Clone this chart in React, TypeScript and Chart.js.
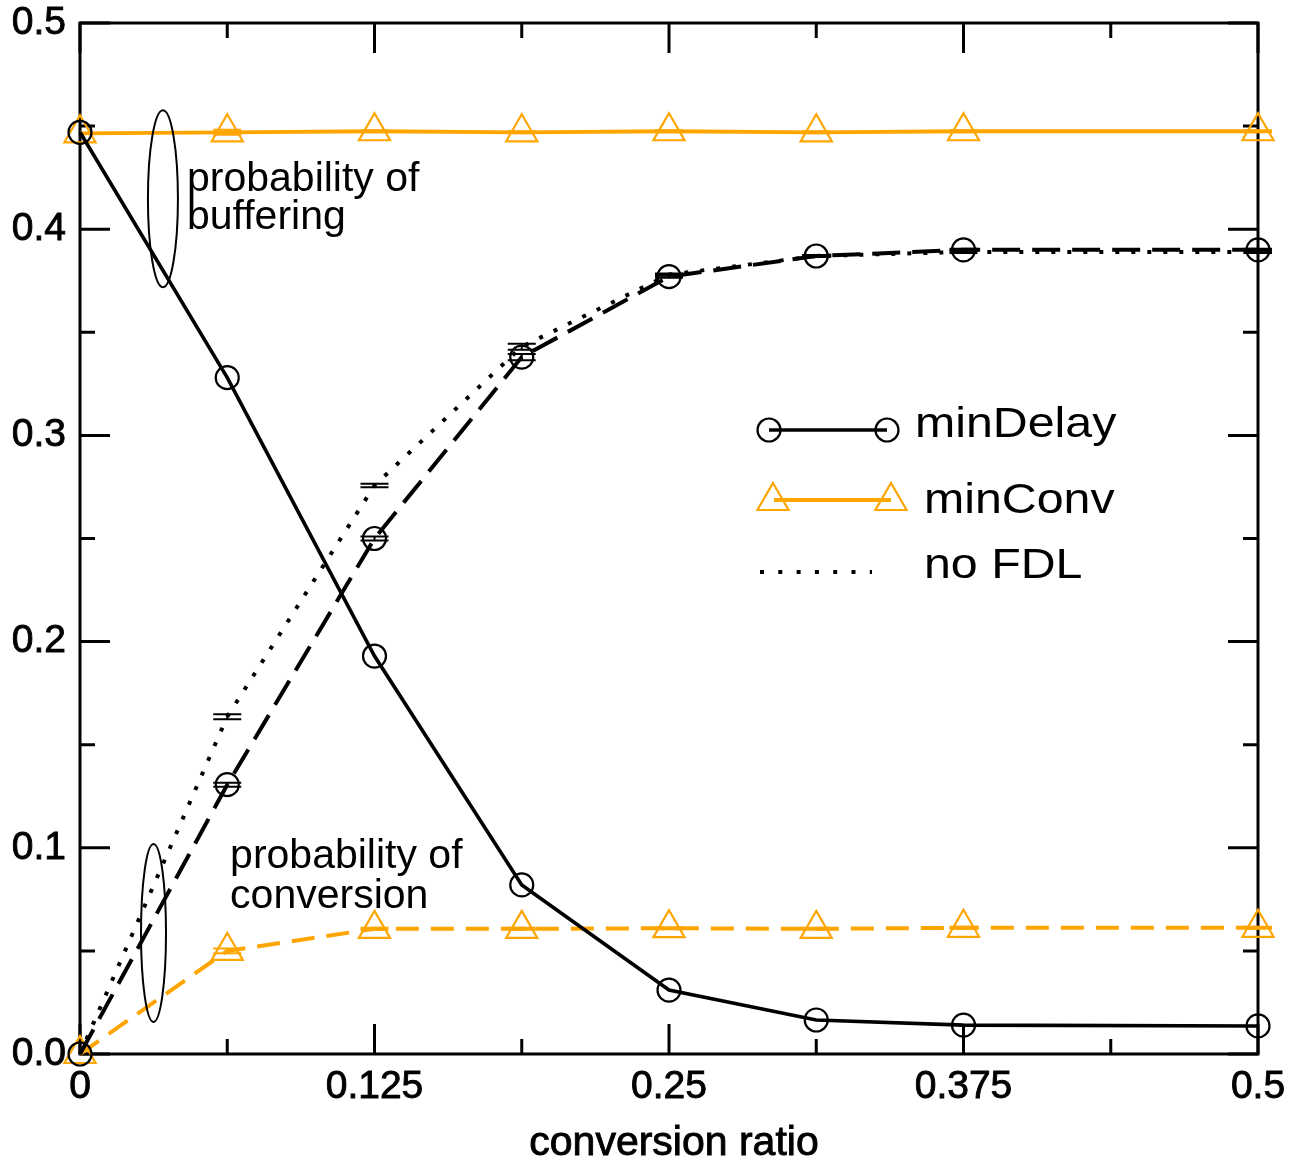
import React, { useEffect, useRef } from 'react';
import { Chart, registerables } from 'chart.js';

Chart.register(...registerables);

// ---------- data ----------
const conversionRatio = [0, 0.0625, 0.125, 0.1875, 0.25, 0.3125, 0.375, 0.5];

const minDelayBuffering = [0.447, 0.328, 0.193, 0.082, 0.031, 0.0165, 0.014, 0.0136];
const minDelayConversion = [0, 0.1306, 0.25, 0.338, 0.377, 0.387, 0.39, 0.39];
const noFdlConversion = [0, 0.1636, 0.2757, 0.343, 0.378, 0.387, 0.389, 0.389];
const minConvBuffering = [0.4465, 0.447, 0.4475, 0.447, 0.4475, 0.447, 0.4475, 0.4475];
const minConvConversion = [0, 0.05, 0.0607, 0.0607, 0.061, 0.0607, 0.0612, 0.0612];

const minDelayConversionErr = [0, 0.001, 0.001, 0.0015, 0.0005, 0.0005, 0.0005, 0.0005];
const noFdlConversionErr = [0, 0.0012, 0.0008, 0.0015, 0.0005, 0.0005, 0.0005, 0.0005];
const minConvBufferingErr = [0, 0.0012, 0.0005, 0.0005, 0.0005, 0.0005, 0.0005, 0.0005];
const minConvConversionErr = [0, 0.0012, 0.0005, 0.0005, 0.0005, 0.0005, 0.0005, 0.0005];

const xTickValues = [0, 0.125, 0.25, 0.375, 0.5];
const yTickValues = [0, 0.1, 0.2, 0.3, 0.4, 0.5];

const legendLabels = ['minDelay', 'minConv', 'no FDL'];
const xAxisTitle = 'conversion ratio';
const bufferingNote = ['probability of', 'buffering'];
const conversionNote = ['probability of', 'conversion'];

// ---------- styles ----------
const ORANGE = '#FFA500';
const FONT = "'Liberation Sans', Arial, Helvetica, sans-serif";

const pts = (ys: number[]) => conversionRatio.map((x, i) => ({ x, y: ys[i] }));

const framePlugin = {
  id: 'frameTicks',
  beforeDatasetsDraw(chart: any) {
    const { ctx, chartArea: a, scales } = chart;
    const xs = scales.x;
    const ys = scales.y;
    const major = 30;
    const minor = 15;
    ctx.save();
    ctx.strokeStyle = '#000';
    ctx.lineWidth = 3;
    ctx.lineCap = 'butt';
    ctx.beginPath();
    xTickValues.forEach((v, i) => {
      const p = xs.getPixelForValue(v);
      ctx.moveTo(p, a.bottom);
      ctx.lineTo(p, a.bottom - major);
      ctx.moveTo(p, a.top);
      ctx.lineTo(p, a.top + major);
      if (i < xTickValues.length - 1) {
        const m = xs.getPixelForValue((v + xTickValues[i + 1]) / 2);
        ctx.moveTo(m, a.bottom);
        ctx.lineTo(m, a.bottom - minor);
        ctx.moveTo(m, a.top);
        ctx.lineTo(m, a.top + minor);
      }
    });
    yTickValues.forEach((v, i) => {
      const p = ys.getPixelForValue(v);
      ctx.moveTo(a.left, p);
      ctx.lineTo(a.left + major, p);
      ctx.moveTo(a.right, p);
      ctx.lineTo(a.right - major, p);
      if (i < yTickValues.length - 1) {
        const m = ys.getPixelForValue((v + yTickValues[i + 1]) / 2);
        ctx.moveTo(a.left, m);
        ctx.lineTo(a.left + minor, m);
        ctx.moveTo(a.right, m);
        ctx.lineTo(a.right - minor, m);
      }
    });
    ctx.stroke();
    ctx.strokeRect(a.left, a.top, a.right - a.left, a.bottom - a.top);
    ctx.restore();
  },
};

function drawTriangle(ctx: CanvasRenderingContext2D, x: number, y: number, r: number) {
  ctx.beginPath();
  ctx.moveTo(x, y - r);
  ctx.lineTo(x + Math.sin((2 * Math.PI) / 3) * r, y + r / 2);
  ctx.lineTo(x - Math.sin((2 * Math.PI) / 3) * r, y + r / 2);
  ctx.closePath();
  ctx.stroke();
}

const overlayPlugin = {
  id: 'overlay',
  afterDatasetsDraw(chart: any) {
    const { ctx, scales } = chart;
    const xs = scales.x;
    const ys = scales.y;
    ctx.save();
    // error bar caps
    chart.data.datasets.forEach((ds: any) => {
      if (!ds.errors) return;
      ctx.strokeStyle = ds.borderColor;
      ctx.lineWidth = 2;
      ctx.setLineDash([]);
      ds.data.forEach((p: any, i: number) => {
        const e = ds.errors[i];
        if (!e) return;
        const px = xs.getPixelForValue(p.x);
        const hi = ys.getPixelForValue(p.y + e);
        const lo = ys.getPixelForValue(p.y - e);
        ctx.beginPath();
        ctx.moveTo(px - 14, hi);
        ctx.lineTo(px + 14, hi);
        ctx.moveTo(px - 14, lo);
        ctx.lineTo(px + 14, lo);
        ctx.moveTo(px, hi);
        ctx.lineTo(px, lo);
        ctx.stroke();
      });
    });

    // ellipses
    ctx.strokeStyle = '#000';
    ctx.lineWidth = 2;
    ctx.beginPath();
    ctx.ellipse(xs.getPixelForValue(0.0352), ys.getPixelForValue(0.4148), 15, 88.5, 0, 0, Math.PI * 2);
    ctx.stroke();
    ctx.beginPath();
    ctx.ellipse(xs.getPixelForValue(0.0312), ys.getPixelForValue(0.0587), 12.5, 89, 0, 0, Math.PI * 2);
    ctx.stroke();

    // notes
    ctx.fillStyle = '#000';
    ctx.font = `41px ${FONT}`;
    ctx.textAlign = 'left';
    ctx.textBaseline = 'alphabetic';
    const bx = xs.getPixelForValue(0.0454);
    const by = ys.getPixelForValue(0.4184);
    ctx.fillText(bufferingNote[0], bx, by);
    ctx.fillText(bufferingNote[1], bx, by + 38);
    const cx = xs.getPixelForValue(0.0637);
    const cy = ys.getPixelForValue(0.0903);
    ctx.fillText(conversionNote[0], cx, cy);
    ctx.fillText(conversionNote[1], cx, cy + 40);
    ctx.restore();
  },
  afterDraw(chart: any) {
    const { ctx, chartArea: a } = chart;
    ctx.save();
    ctx.lineCap = 'butt';
    // row 1: minDelay
    ctx.strokeStyle = '#000';
    ctx.lineWidth = 3.6;
    ctx.setLineDash([]);
    ctx.beginPath();
    ctx.moveTo(769, 430);
    ctx.lineTo(887, 430);
    ctx.stroke();
    ctx.lineWidth = 2.2;
    [769, 887].forEach((x) => {
      ctx.beginPath();
      ctx.arc(x, 430, 11.5, 0, Math.PI * 2);
      ctx.stroke();
    });
    // row 2: minConv
    ctx.strokeStyle = ORANGE;
    ctx.lineWidth = 3.8;
    ctx.beginPath();
    ctx.moveTo(774, 500);
    ctx.lineTo(891, 500);
    ctx.stroke();
    ctx.lineWidth = 2.2;
    drawTriangle(ctx, 773, 501, 18);
    drawTriangle(ctx, 891, 501, 18);
    // row 3: no FDL
    ctx.strokeStyle = '#000';
    ctx.lineWidth = 4;
    ctx.setLineDash([4, 14.3]);
    ctx.beginPath();
    ctx.moveTo(760, 572);
    ctx.lineTo(872, 572);
    ctx.stroke();
    ctx.setLineDash([]);

    ctx.fillStyle = '#000';
    ctx.font = `42px ${FONT}`;
    ctx.textAlign = 'left';
    ctx.textBaseline = 'alphabetic';
    const rows = [
      [915, 437],
      [924, 513],
      [924, 578],
    ];
    legendLabels.forEach((t, i) => {
      ctx.save();
      ctx.translate(rows[i][0], rows[i][1]);
      ctx.scale(1.15, 1);
      ctx.fillText(t, 0, 0);
      ctx.restore();
    });

    // x-axis title
    ctx.font = `41px ${FONT}`;
    ctx.textAlign = 'center';
    ctx.strokeStyle = '#000';
    ctx.lineWidth = 0.9;
    const tx = (a.left + a.right) / 2 + 5;
    ctx.fillText(xAxisTitle, tx, 1155);
    ctx.strokeText(xAxisTitle, tx, 1155);
    ctx.restore();
  },
};

export default function App() {
  const canvasRef = useRef<HTMLCanvasElement | null>(null);

  useEffect(() => {
    const canvas = canvasRef.current;
    if (!canvas) return;
    const circle = {
      pointStyle: 'circle',
      pointRadius: 11.5,
      pointHoverRadius: 11.5,
      pointBorderWidth: 2.2,
      pointBorderColor: '#000',
      pointBackgroundColor: 'rgba(0,0,0,0)',
    };
    const tri = {
      pointStyle: 'triangle',
      pointRadius: 18,
      pointHoverRadius: 18,
      pointBorderWidth: 2.2,
      pointBorderColor: ORANGE,
      pointBackgroundColor: 'rgba(0,0,0,0)',
    };
    const chart = new Chart(canvas, {
      type: 'line',
      data: {
        datasets: [
          {
            label: 'minDelay buffering',
            data: pts(minDelayBuffering),
            borderColor: '#000',
            borderWidth: 3.6,
            ...circle,
            clip: false,
          },
          {
            label: 'minDelay conversion',
            data: pts(minDelayConversion),
            borderColor: '#000',
            borderWidth: 4,
            borderDash: [28, 12],
            errors: minDelayConversionErr,
            ...circle,
            clip: false,
          },
          {
            label: 'no FDL conversion',
            data: pts(noFdlConversion),
            borderColor: '#000',
            borderWidth: 4,
            borderDash: [4, 12],
            pointRadius: 0,
            errors: noFdlConversionErr,
            clip: false,
          },
          {
            label: 'minConv buffering',
            data: pts(minConvBuffering),
            borderColor: ORANGE,
            borderWidth: 3.8,
            errors: minConvBufferingErr,
            ...tri,
            clip: false,
          },
          {
            label: 'minConv conversion',
            data: pts(minConvConversion),
            borderColor: ORANGE,
            borderWidth: 4,
            borderDash: [23, 12],
            errors: minConvConversionErr,
            ...tri,
            clip: false,
          },
        ] as any,
      },
      options: {
        animation: false,
        responsive: false,
        devicePixelRatio: 1,
        events: [],
        layout: { padding: { top: 23, right: 47, left: 0, bottom: 0 } },
        plugins: {
          legend: { display: false },
          tooltip: { enabled: false },
        },
        elements: { line: { tension: 0, borderCapStyle: 'butt' } },
        scales: {
          x: {
            type: 'linear',
            min: 0,
            max: 0.5,
            afterBuildTicks: (s: any) => {
              s.ticks = xTickValues.map((v) => ({ value: v }));
            },
            afterFit: (s: any) => {
              s.height = 110;
              s.paddingLeft = 0;
              s.paddingRight = 0;
            },
            grid: { display: false, drawTicks: false },
            border: { display: false },
            ticks: {
              color: '#000',
              font: { family: FONT, size: 39 },
              textStrokeColor: '#000',
              textStrokeWidth: 0.9,
              padding: 10,
              maxRotation: 0,
              autoSkip: false,
              callback: (v: any) => (v === 0 ? '0' : String(v)),
            },
            title: { display: false },
          },
          y: {
            type: 'linear',
            min: 0,
            max: 0.5,
            afterBuildTicks: (s: any) => {
              s.ticks = yTickValues.map((v) => ({ value: v }));
            },
            afterFit: (s: any) => {
              s.width = 80;
              s.paddingTop = 0;
              s.paddingBottom = 0;
            },
            grid: { display: false, drawTicks: false },
            border: { display: false },
            ticks: {
              color: '#000',
              font: { family: FONT, size: 39 },
              textStrokeColor: '#000',
              textStrokeWidth: 0.9,
              padding: 14,
              autoSkip: false,
              callback: (v: any) => Number(v).toFixed(1),
            },
          },
        },
      } as any,
      plugins: [framePlugin, overlayPlugin],
    });
    return () => chart.destroy();
  }, []);

  return (
    <div style={{ position: 'absolute', left: 0, top: 0, width: 1305, height: 1164, background: '#fff' }}>
      <canvas ref={canvasRef} width={1305} height={1164} style={{ display: 'block' }} />
    </div>
  );
}
